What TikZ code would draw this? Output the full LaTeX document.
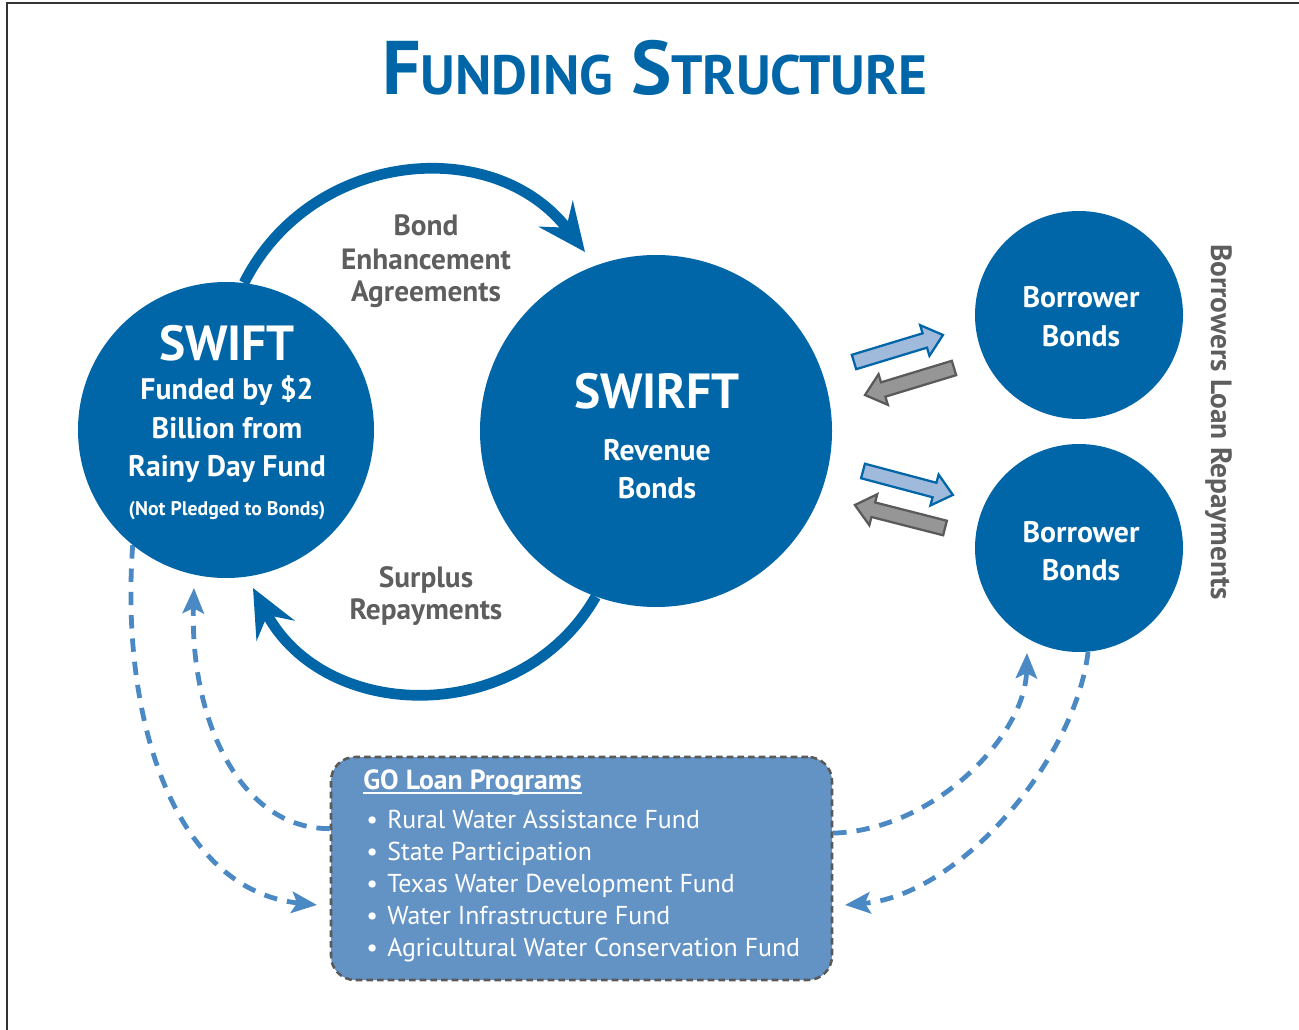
\documentclass[tikz,border=0pt]{standalone}
\usepackage{fontspec}
\setmainfont{PT Sans}
\usetikzlibrary{arrows.meta}

\definecolor{swblue}{RGB}{0,102,168}
\definecolor{dashblue}{RGB}{74,137,196}
\definecolor{gofill}{RGB}{99,146,196}
\definecolor{labelgray}{RGB}{94,94,94}
\definecolor{arrowlight}{RGB}{160,186,220}
\definecolor{arrowgray}{RGB}{150,150,150}
\definecolor{edgegray}{RGB}{90,90,90}

\pgfdeclarelayer{back}
\pgfsetlayers{back,main}

% block arrow: x, y, angle, fill, border
\newcommand{\blockarrow}[5]{%
  \begin{scope}[shift={(#1,#2)}, rotate=#3]
    \draw[fill=#4, draw=#5, line width=1.7pt, line join=miter]
      (0,-7.5) -- (74,-7.5) -- (74,-16) -- (93,0) -- (74,16) -- (74,7.5) -- (0,7.5) -- cycle;
  \end{scope}}

\begin{document}
\begin{tikzpicture}[x=0.75pt, y=-0.75pt,
  disc/.style={circle, fill=swblue, inner sep=0pt},
  wtext/.style={text=white, anchor=base, inner sep=0pt, font=\bfseries\fontsize{22.3}{26}\selectfont},
  wbig/.style={text=white, anchor=base, inner sep=0pt, font=\bfseries\fontsize{37}{40}\selectfont},
  glabel/.style={text=labelgray, anchor=base, inner sep=0pt, font=\bfseries\fontsize{22}{26}\selectfont},
  golist/.style={text=white, anchor=base west, inner sep=0pt, font=\fontsize{19.4}{23}\selectfont},
  flowarc/.style={draw=swblue, line width=8pt, -{Stealth[length=36pt,width=32pt,inset=13pt]}},
  loanflow/.style={draw=dashblue, line width=3.6pt, dash pattern=on 10pt off 7.5pt,
                   -{Stealth[length=19pt,width=16pt,inset=4pt]}},
  frame/.style={draw=black!80, line width=1.1pt}]

\useasboundingbox (0,0) rectangle (1299,1030);
\draw[frame] (7,1030) -- (7,3) -- (1299,3);

% heading
\node[anchor=base, text=swblue, inner sep=0pt, font=\bfseries] (title) at (655,95)
  {\fontsize{57}{62}\selectfont F\fontsize{41.5}{46}\selectfont UNDING\hspace{0.32em}\fontsize{57}{62}\selectfont S\fontsize{41.5}{46}\selectfont TRUCTURE};

% funds and bonds
\node[disc, minimum size=222pt] (swift) at (226,430) {};
\node[disc, minimum size=264pt] (swirft) at (656,431) {};
\node[disc, minimum size=156pt] (bbA) at (1079,315) {};
\node[disc, minimum size=156pt] (bbB) at (1079,548) {};

\node[wbig] (swiftT) at (227,361) {SWIFT};
\node[wtext] (swiftL1) at (227,400) {Funded by \$2};
\node[wtext] (swiftL2) at (227,438) {Billion from};
\node[wtext] (swiftL3) at (227,476) {Rainy Day Fund};
\node[text=white, anchor=base, inner sep=0pt, font=\bfseries\fontsize{14.8}{17}\selectfont] (swiftL4) at (227,515) {(Not Pledged to Bonds)};

\node[wbig] (swirftT) at (657,408) {SWIRFT};
\node[wtext] (swirftL1) at (657,460) {Revenue};
\node[wtext] (swirftL2) at (657,498) {Bonds};

\node[wtext] (bbA1) at (1081,308) {Borrower};
\node[wtext] (bbA2) at (1081,347) {Bonds};
\node[wtext] (bbB1) at (1081,542) {Borrower};
\node[wtext] (bbB2) at (1081,580) {Bonds};

% flows between the two funds
\coordinate (bondTip) at (585,252);
\coordinate (surplusTip) at (253,588);
\draw[flowarc] (swift.83) .. controls (311,150) and (494,133) .. (bondTip);
\draw[flowarc] (swirft.250) .. controls (521,727) and (325,724) .. (surplusTip);

\node[glabel] (bondA) at (426,236) {Bond};
\node[glabel] (bondB) at (426,270) {Enhancement};
\node[glabel] (bondC) at (426,302) {Agreements};
\node[glabel] (surA) at (426,587) {Surplus};
\node[glabel] (surB) at (426,619) {Repayments};

% bond purchases and repayments
\blockarrow{854}{362}{16.9}{arrowlight}{swblue}
\blockarrow{954}{368}{196.9}{arrowgray}{edgegray}
\blockarrow{863}{471}{-14.9}{arrowlight}{swblue}
\blockarrow{945}{528}{165.7}{arrowgray}{edgegray}

\node[rotate=-90, anchor=base, inner sep=0pt, text=labelgray, font=\bfseries\fontsize{22}{26}\selectfont] (repay) at (1211,422) {Borrowers Loan Repayments};

% GO loan programs
\node[draw=edgegray, line width=1.9pt, dash pattern=on 5pt off 3pt, fill=gofill,
      rounded corners=18pt, minimum width=375.75pt, minimum height=167.25pt, inner sep=0pt] (go) at (581.5,868.5) {};
\node[text=white, anchor=base west, inner sep=0pt, font=\bfseries\fontsize{20.8}{24}\selectfont] (goTitle) at (363,789) {GO Loan Programs};
\draw[white, line width=1.3pt] ([yshift=-3.2pt]goTitle.base west) -- ([yshift=-3.2pt]goTitle.base east);
\node[golist] (goA) at (366,828) {\textbullet\hspace{7pt}Rural Water Assistance Fund};
\node[golist] (goB) at (366,860) {\textbullet\hspace{7pt}State Participation};
\node[golist] (goC) at (366,892) {\textbullet\hspace{7pt}Texas Water Development Fund};
\node[golist] (goD) at (366,924) {\textbullet\hspace{7pt}Water Infrastructure Fund};
\node[golist] (goE) at (366,956) {\textbullet\hspace{7pt}Agricultural Water Conservation Fund};

% loan flows to and from the GO programs
\coordinate (goInL) at (317,905);
\coordinate (swiftIn) at (194,588);
\coordinate (bbIn) at (1027,653);
\coordinate (goInR) at (845,905);
\begin{pgfonlayer}{back}
\draw[loanflow] (swift.231) .. controls (120,720) and (175,890) .. (goInL);
\draw[loanflow] (go.171.3) .. controls (240,829) and (190,720) .. (swiftIn);
\draw[loanflow] (go.8.7) .. controls (935,830) and (1025,735) .. (bbIn);
\draw[loanflow] (bbB.-85) .. controls (1075,760) and (960,895) .. (goInR);
\end{pgfonlayer}

\end{tikzpicture}
\end{document}
